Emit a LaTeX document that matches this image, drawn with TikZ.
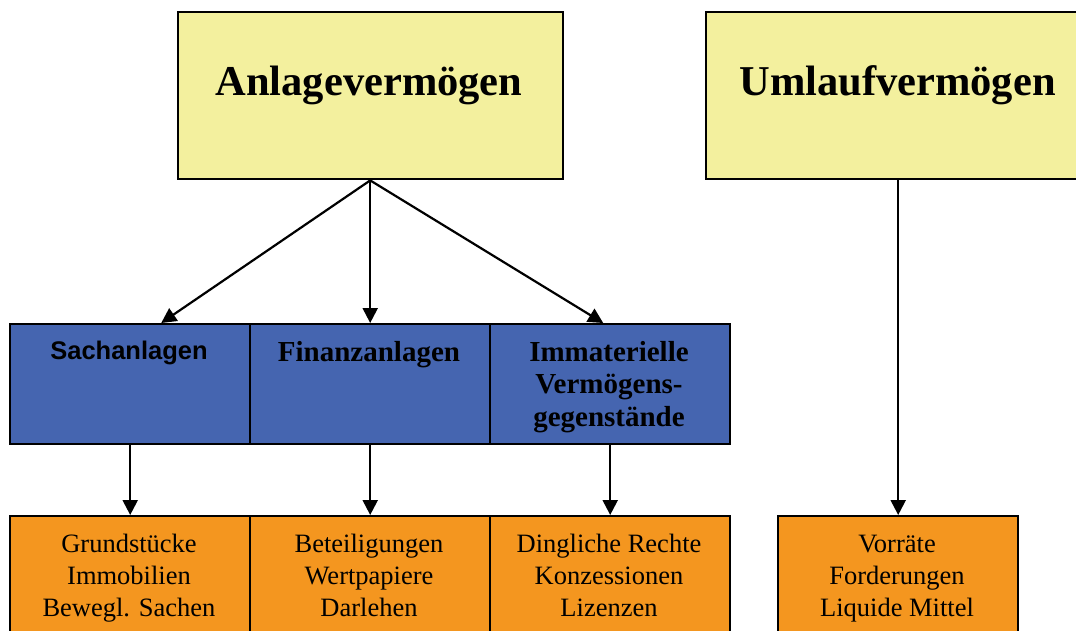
\documentclass[tikz,border=0pt]{standalone}
\usepackage{fontspec}
\setmainfont{Liberation Serif}
\newfontfamily\arialfont{Liberation Sans}
\usetikzlibrary{arrows.meta}
\definecolor{boxyellow}{RGB}{243,240,158}
\definecolor{boxblue}{RGB}{69,101,176}
\definecolor{boxorange}{RGB}{244,150,31}
\begin{document}
\begin{tikzpicture}[x=1pt,y=-1pt,
  frame/.style={draw=black, line width=2.4pt, rectangle, inner sep=0pt, anchor=north west},
  topbox/.style={frame, fill=boxyellow, minimum width=385pt, minimum height=167pt},
  midbox/.style={frame, fill=boxblue, minimum width=240pt, minimum height=120pt},
  lowbox/.style={frame, fill=boxorange, minimum width=240pt, minimum height=150pt},
  toptext/.style={anchor=base, inner sep=0pt, font=\fontsize{42.5}{48}\selectfont\bfseries},
  midtext/.style={anchor=base, inner sep=0pt, align=center, font=\fontsize{29}{32.5}\selectfont\bfseries},
  lowtext/.style={anchor=base, inner sep=0pt, align=center, font=\fontsize{26.5}{32}\selectfont},
  arr/.style={line width=2.2pt, -{Triangle[length=15pt, width=15pt]}}
]
\useasboundingbox (0,0) rectangle (1076,630);
\clip (0,0) rectangle (1076,630);

% boxes
\node[topbox] (anl) at (176.5,11) {};
\node[topbox] (uml) at (704.5,11) {};
\node[midbox] (sach) at (9,323) {};
\node[midbox] (fin) at (249,323) {};
\node[midbox] (imm) at (489,323) {};
\node[lowbox] (grund) at (9,515) {};
\node[lowbox] (beteil) at (249,515) {};
\node[lowbox] (ding) at (489,515) {};
\node[lowbox] (vorr) at (777,515) {};

% texts (multi-line nodes are anchored at the baseline of their last line)
\node[toptext] (anltxt) at (369,95) {Anlagevermögen};
\node[toptext] (umltxt) at (897.5,95) {Umlaufvermögen};
\node[anchor=base, inner sep=0pt, font=\arialfont\bfseries\fontsize{25.5}{30}\selectfont] (sachtxt) at (129,359) {Sachanlagen};
\node[midtext] (fintxt) at (369,361) {Finanzanlagen};
\node[midtext] (immtxt) at (609,426) {Immaterielle\\Vermögens-\\gegenstände};
\node[lowtext] (grundtxt) at (129,616) {Grundstücke\\Immobilien\\Bewegl. Sachen};
\node[lowtext] (beteiltxt) at (369,616) {Beteiligungen\\Wertpapiere\\Darlehen};
\node[lowtext] (dingtxt) at (609,616) {Dingliche Rechte\\Konzessionen\\Lizenzen};
\node[lowtext] (vorrtxt) at (897,616) {Vorräte\\Forderungen\\Liquide Mittel};

% connectors
\coordinate (sachin) at ([xshift=31pt]sach.north);
\coordinate (immin) at ([xshift=-7pt]imm.north);
\draw[arr] (anl.south) -- (sachin);
\draw[arr] (anl.south) -- (fin.north);
\draw[arr] (anl.south) -- (immin);
\draw[arr] (sach.south) -- (grund.north);
\draw[arr] (fin.south) -- (beteil.north);
\draw[arr] (imm.south) -- (ding.north);
\draw[arr] (uml.south) -- (vorr.north);
\end{tikzpicture}
\end{document}
